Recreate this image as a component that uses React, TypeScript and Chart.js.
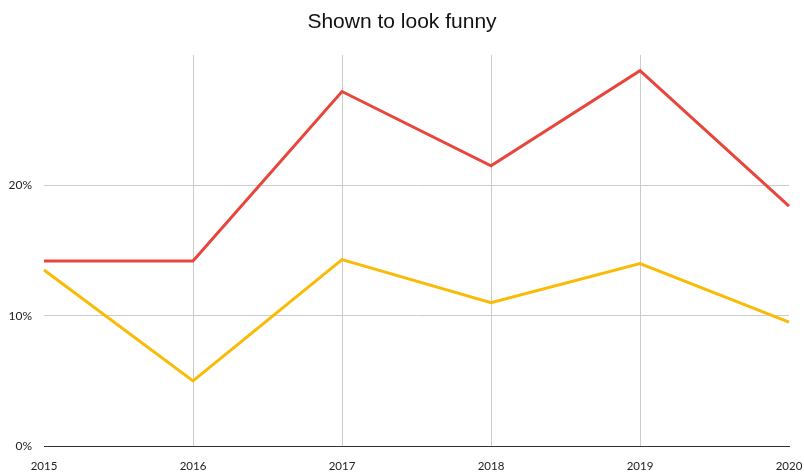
import React, { useEffect, useRef } from "react";
import { Chart, registerables } from "chart.js";

Chart.register(...registerables);

const years = ["2015", "2016", "2017", "2018", "2019", "2020"];
const redSeries = [14.2, 14.2, 27.2, 21.5, 28.8, 18.4];
const yellowSeries = [13.5, 5.0, 14.3, 11.0, 14.0, 9.5];
const yTicks = [0, 10, 20];
const titleText = "Shown to look funny";

export default function App() {
  const ref = useRef<HTMLCanvasElement | null>(null);
  useEffect(() => {
    if (!ref.current) return;
    const chart = new Chart(ref.current, {
      type: "line",
      data: {
        labels: years,
        datasets: [
          {
            label: "A",
            data: redSeries,
            borderColor: "#e8453c",
            backgroundColor: "#e8453c",
            borderWidth: 3,
            pointRadius: 0,
            tension: 0,
          },
          {
            label: "B",
            data: yellowSeries,
            borderColor: "#f9bb06",
            backgroundColor: "#f9bb06",
            borderWidth: 3,
            pointRadius: 0,
            tension: 0,
          },
        ],
      },
      options: {
        animation: false,
        responsive: false,
        maintainAspectRatio: false,
        layout: { padding: { top: 0, bottom: 0, left: 0, right: 0 } },
        plugins: {
          legend: { display: false },
          tooltip: { enabled: false },
          title: {
            display: true,
            text: titleText,
            color: "#111",
            font: { family: "'Liberation Sans', Arial, sans-serif", size: 21, weight: "normal" },
            padding: { top: 9.4, bottom: 20.4 },
          },
        },
        scales: {
          x: {
            offset: false,
            grid: {
              drawTicks: false,
              color: (ctx: any) =>
                ctx.index === 0 || ctx.index === years.length - 1 ? "rgba(0,0,0,0)" : "#cccccc",
              lineWidth: 1,
            },
            border: { display: true, color: "#333333", width: 1 },
            ticks: {
              color: "#222",
              font: { family: "Lato, sans-serif", size: 11.5 },
              padding: 13,
              maxRotation: 0,
              autoSkip: false,
            },
            afterFit: (scale: any) => {
              scale.height = 27;
              scale.paddingRight = 15;
              scale.paddingLeft = 0;
            },
          },
          y: {
            min: 0,
            max: 30,
            afterBuildTicks: (scale: any) => {
              scale.ticks = yTicks.map((v) => ({ value: v }));
            },
            grid: {
              drawTicks: false,
              color: (ctx: any) => (ctx.tick && ctx.tick.value === 0 ? "#333333" : "#cccccc"),
              lineWidth: 1,
            },
            border: { display: false },
            ticks: {
              color: "#222",
              font: { family: "Lato, sans-serif", size: 12 },
              padding: 12,
              callback: (v: any) => v + "%",
            },
            afterFit: (scale: any) => {
              scale.width = 44;
            },
          },
        },
      },
    });
    return () => chart.destroy();
  }, []);
  return (
    <div style={{ position: "absolute", left: 0, top: 0, width: 804, height: 473, background: "#fff" }}>
      <canvas ref={ref} width={804} height={473} style={{ display: "block", width: 804, height: 473 }} />
    </div>
  );
}
